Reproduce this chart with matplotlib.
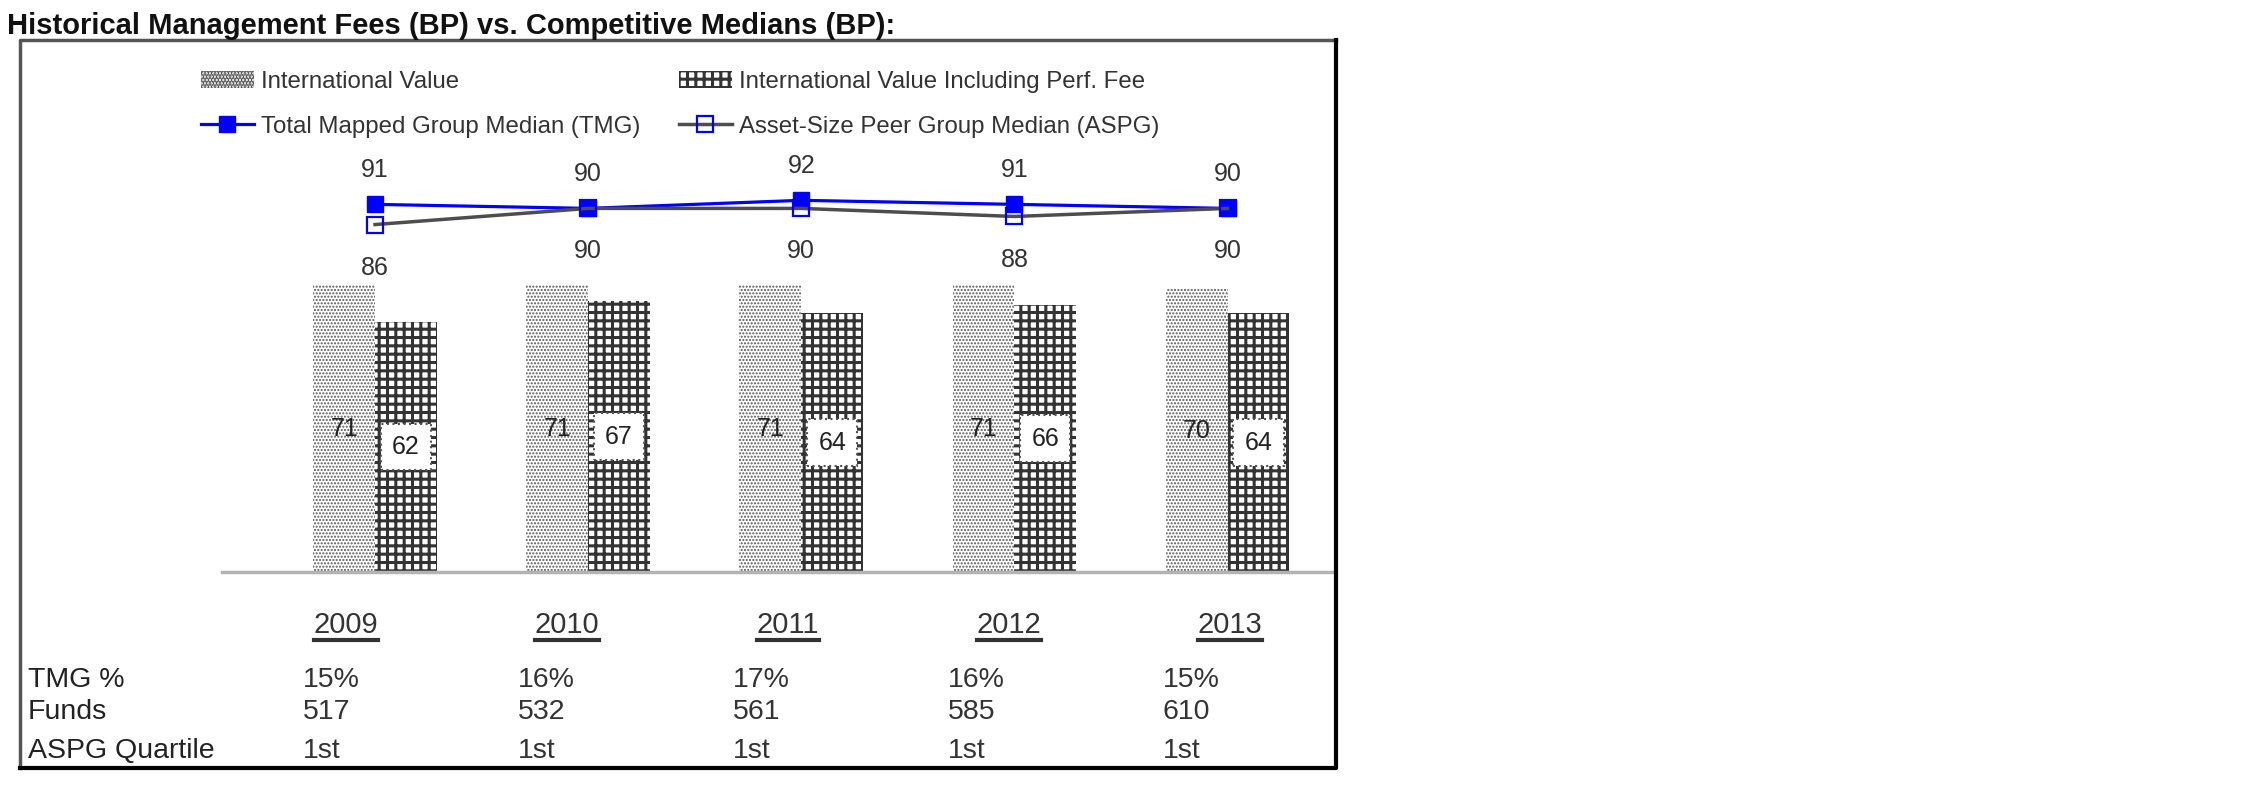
import matplotlib
matplotlib.use('Agg')
import matplotlib.pyplot as plt
from matplotlib.lines import Line2D
import numpy as np

# chart data
years = ['2009', '2010', '2011', '2012', '2013']
intl_value = [71, 71, 71, 71, 70]
intl_value_perf = [62, 67, 64, 66, 64]
tmg_median = [91, 90, 92, 91, 90]
aspg_median = [86, 90, 90, 88, 90]

# table under the chart
row_names = ['TMG %', 'Funds', 'ASPG Quartile']
tmg_pct = ['15%', '16%', '17%', '16%', '15%']
funds = ['517', '532', '561', '585', '610']
aspg_quartile = ['1st', '1st', '1st', '1st', '1st']

W, H = 2250, 796
plt.rcParams['font.family'] = ['Liberation Sans', 'DejaVu Sans']


def fx(px):
    return px / W


def fy(py):
    return 1 - py / H


fig = plt.figure(figsize=(W / 100, H / 100), dpi=100)

# chart area
ax = fig.add_axes([fx(222), fy(572), fx(1332) - fx(222), fy(100) - fy(572)])
x = np.arange(len(years))
bw = 0.29

plt.rcParams['hatch.linewidth'] = 1.0
b1 = ax.bar(x - bw / 2, intl_value, bw, color='white', edgecolor='#555555',
            hatch='.....', linewidth=0, label='International Value')
plt.rcParams['hatch.linewidth'] = 2.2
b2 = ax.bar(x + bw / 2, intl_value_perf, bw, color='white', edgecolor='#333333',
            hatch='++', linewidth=0, label='International Value Including Perf. Fee')

ax.bar_label(b1, label_type='center', fontsize=18, color='#222222')
ax.bar_label(b2, label_type='center', fontsize=18, color='#222222',
             bbox=dict(boxstyle='square,pad=0.45', fc='white', ec='#555555',
                       ls=':', lw=1.5))

l1, = ax.plot(x, tmg_median, color='#0000ff', lw=2.3, marker='s', ms=12,
              mfc='#0000ff', mec='#0000ff', zorder=5,
              label='Total Mapped Group Median (TMG)')
l2, = ax.plot(x, aspg_median, color='#4d4d4d', lw=2.5, marker='s', ms=11,
              mfc='none', mec='#0000ff', mew=1.6, zorder=6,
              label='Asset-Size Peer Group Median (ASPG)')

for xi, v in zip(x, tmg_median):
    ax.annotate(str(v), (xi, v), xytext=(0, 25), textcoords='offset points',
                ha='center', va='center', fontsize=18, color='#333333')
for xi, v in zip(x, aspg_median):
    ax.annotate(str(v), (xi, v), xytext=(0, -31), textcoords='offset points',
                ha='center', va='center', fontsize=18, color='#333333')

ax.set_xlim(-0.718, 4.49)
ax.set_ylim(0, 472 / 4.04)
for s in ['top', 'left', 'right']:
    ax.spines[s].set_visible(False)
ax.spines['bottom'].set_color('#b3b3b3')
ax.spines['bottom'].set_linewidth(2.5)
ax.set_xticks([])
ax.set_yticks([])

fig.legend(handles=[b1, l1, b2, l2], ncol=2, loc='upper left',
           bbox_to_anchor=(fx(201), fy(71)), frameon=False, fontsize=17.3,
           borderpad=0, borderaxespad=0, handlelength=2.2, handletextpad=0.3,
           columnspacing=1.6, labelspacing=0.95, labelcolor='#333333')

# title and frame
fig.text(fx(7), fy(26), 'Historical Management Fees (BP) vs. Competitive Medians (BP):',
         fontsize=21, fontweight='bold', ha='left', va='center', color='#111111')
fig.add_artist(Line2D([fx(20), fx(20), fx(1336)], [fy(768), fy(40), fy(40)],
                      color='#555555', lw=2.5, transform=fig.transFigure))
fig.add_artist(Line2D([fx(20), fx(1336), fx(1336)], [fy(768), fy(768), fy(40)],
                      color='black', lw=3, transform=fig.transFigure))

# table under the chart
year_texts = []
for i, yr in enumerate(years):
    t = fig.text(fx(346 + 221 * i), fy(625), yr, fontsize=21, ha='center',
                 va='center', color='#333333')
    year_texts.append(t)

rows = [tmg_pct, funds, aspg_quartile]
row_y = [680, 712, 751]
for name, vals, ry in zip(row_names, rows, row_y):
    fig.text(fx(28), fy(ry), name, fontsize=20.5, ha='left', va='center', color='#222222')
    for i, v in enumerate(vals):
        fig.text(fx(303 + 215 * i), fy(ry), v, fontsize=20.5, ha='left',
                 va='center', color='#333333')

# underline the years
fig.canvas.draw()
r = fig.canvas.get_renderer()
for t in year_texts:
    bb = t.get_window_extent(r)
    fig.add_artist(Line2D([bb.x0 / W, bb.x1 / W], [(bb.y0 - 1) / H, (bb.y0 - 1) / H],
                          color='#333333', lw=3, transform=fig.transFigure))

fig.savefig('out.png', dpi=100)
